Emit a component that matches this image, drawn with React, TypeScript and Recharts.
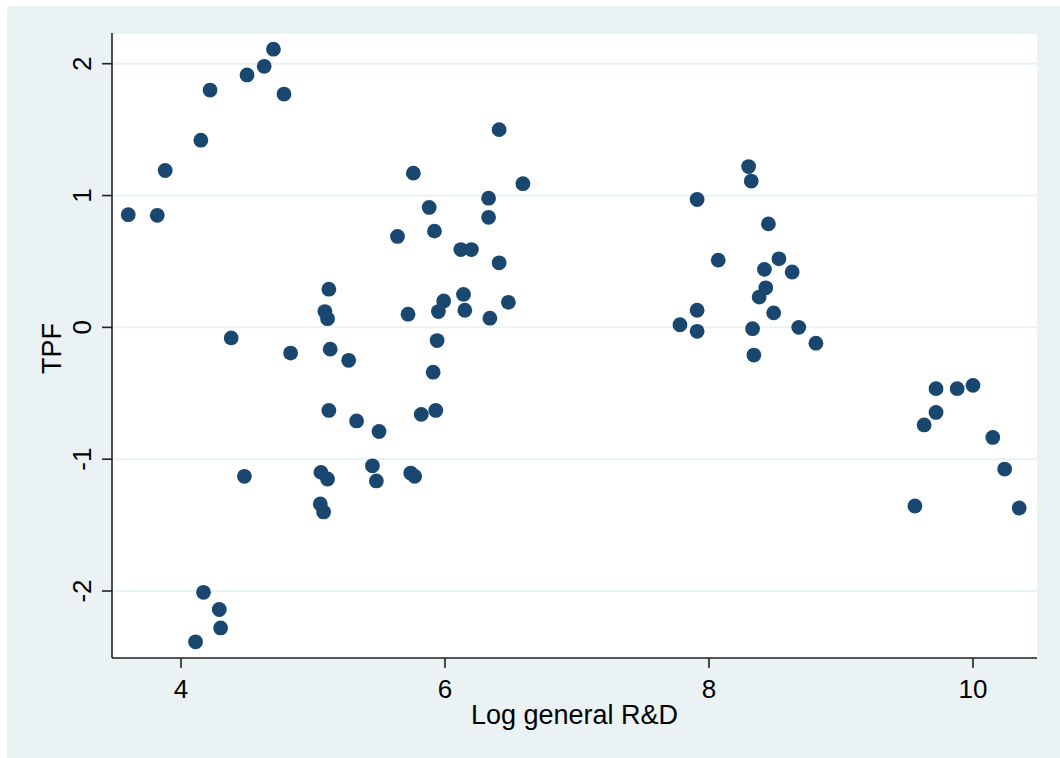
import React from 'react';
import { ScatterChart, Scatter, XAxis, YAxis, CartesianGrid } from 'recharts';

// log general R&D (x) and TPF (y), one entry per observation
const logRD = [
    3.60, 3.82, 3.88, 4.15, 4.22, 4.50, 4.63, 4.70, 4.78, 4.38, 4.83, 4.48, 4.17, 4.29, 4.30, 4.11,
    5.12, 5.09, 5.11, 5.13, 5.27, 5.12, 5.33, 5.50, 5.06, 5.11, 5.055, 5.08, 5.45, 5.48,
    5.82, 5.93, 5.74, 5.77, 6.41, 5.76, 6.59, 6.33, 5.88, 6.33, 5.64, 5.92, 6.12, 6.20, 6.41,
    6.14, 5.99, 6.48, 5.72, 5.95, 6.15, 6.34, 5.94, 5.91,
    7.91, 7.91, 7.78, 7.91, 8.30, 8.32, 8.45, 8.07, 8.53, 8.42, 8.63, 8.43, 8.38, 8.49, 8.33,
    8.68, 8.81, 8.34,
    9.72, 9.88, 10.00, 9.72, 9.63, 10.15, 10.24, 9.56, 10.35,
];

const tpf = [
    0.855, 0.85, 1.19, 1.42, 1.80, 1.915, 1.98, 2.11, 1.77, -0.08, -0.195, -1.13, -2.01, -2.14, -2.28, -2.385,
    0.29, 0.12, 0.066, -0.165, -0.25, -0.63, -0.71, -0.79, -1.10, -1.15, -1.34, -1.40, -1.05, -1.165,
    -0.66, -0.63, -1.105, -1.13, 1.50, 1.17, 1.09, 0.98, 0.91, 0.835, 0.69, 0.73, 0.59, 0.59, 0.49,
    0.25, 0.20, 0.19, 0.10, 0.12, 0.13, 0.07, -0.10, -0.34,
    0.97, 0.13, 0.02, -0.03, 1.22, 1.11, 0.785, 0.51, 0.52, 0.44, 0.42, 0.30, 0.23, 0.11, -0.01,
    0.00, -0.12, -0.21,
    -0.465, -0.465, -0.44, -0.645, -0.74, -0.835, -1.075, -1.355, -1.37,
];

const xTicks = [4, 6, 8, 10];
const yTicks = [-2, -1, 0, 1, 2];

const points = logRD.map((x, i) => ({ x, y: tpf[i] }));

const BG = '#eaf2f3';
const NAVY = '#1a476f';
const FONT = '"Liberation Sans", Arial, Helvetica, sans-serif';

const YTick = (props: any) => {
    const { x, y, payload } = props;
    return (
        <text x={x} y={y} transform={`rotate(-90 ${x} ${y})`} textAnchor="middle"
            fill="#000" fontSize={26} fontFamily={FONT}>
            {payload.value}
        </text>
    );
};

const Dot = (props: any) => <circle cx={props.cx} cy={props.cy} r={7.4} fill={NAVY} />;

export default function App() {
    return (
        <div style={{ position: 'absolute', left: 7, top: 6, width: 1053, height: 752, background: BG }}>
            <ScatterChart width={1053} height={752} margin={{ top: 27, right: 23, bottom: 0, left: 0 }}>
                <CartesianGrid vertical={false} fill="#ffffff" stroke={BG} strokeWidth={2} />
                <XAxis
                    type="number"
                    dataKey="x"
                    domain={[3.477, 10.485]}
                    allowDataOverflow
                    ticks={xTicks}
                    height={100}
                    tickSize={10}
                    tickMargin={12}
                    axisLine={{ stroke: '#222', strokeWidth: 1.6 }}
                    tickLine={{ stroke: '#222', strokeWidth: 1.6 }}
                    tick={{ fill: '#000', fontSize: 26, fontFamily: FONT }}
                    label={{
                        content: ({ viewBox }: any) => (
                            <text x={viewBox.x + viewBox.width / 2} y={viewBox.y + 66} textAnchor="middle"
                                fill="#000" fontSize={27} fontFamily={FONT}>
                                Log general R&amp;D
                            </text>
                        ),
                    }}
                />
                <YAxis
                    type="number"
                    dataKey="y"
                    domain={[-2.508, 2.233]}
                    allowDataOverflow
                    ticks={yTicks}
                    width={105}
                    tickSize={10}
                    tickMargin={11}
                    axisLine={{ stroke: '#222', strokeWidth: 1.6 }}
                    tickLine={{ stroke: '#222', strokeWidth: 1.6 }}
                    tick={<YTick />}
                    label={{
                        content: ({ viewBox }: any) => {
                            const lx = viewBox.x + 54;
                            const ly = viewBox.y + viewBox.height / 2 + 3;
                            return (
                                <text x={lx} y={ly} transform={`rotate(-90 ${lx} ${ly})`} textAnchor="middle"
                                    fill="#000" fontSize={27} fontFamily={FONT}>
                                    TPF
                                </text>
                            );
                        },
                    }}
                />
                <Scatter data={points} shape={<Dot />} isAnimationActive={false} />
            </ScatterChart>
        </div>
    );
}
